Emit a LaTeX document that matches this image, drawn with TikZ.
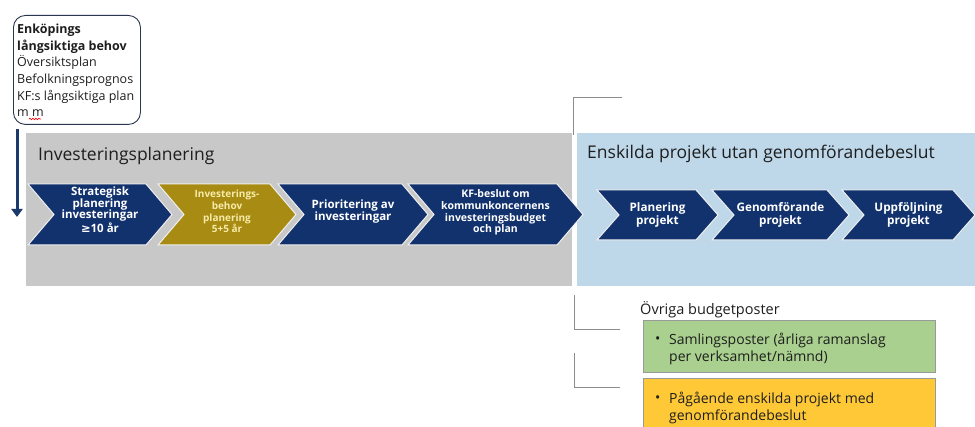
\documentclass[tikz,border=0pt]{standalone}
\usepackage{fontspec}
\setmainfont{Open Sans}
\newfontfamily\symfont{DejaVu Sans}
\usetikzlibrary{calc,arrows.meta,decorations.pathmorphing}
\definecolor{navy}{HTML}{12326E}
\definecolor{gold}{HTML}{A88B13}
\definecolor{paleyel}{HTML}{F7EBA8}
\definecolor{graybg}{HTML}{C8C8C8}
\definecolor{bluebg}{HTML}{BED8EA}
\definecolor{greenbox}{HTML}{A9D08E}
\definecolor{orangebox}{HTML}{FFC837}
\definecolor{arrowcol}{HTML}{1B3A6B}
\definecolor{brackgray}{HTML}{8C8C8C}
\definecolor{boxcol}{HTML}{2A3550}
\definecolor{titlecol}{HTML}{1E1E1E}
\tikzset{
  bluechev/.style={fill=navy, draw=white!88!gray, line width=1pt, line join=miter},
  goldchev/.style={fill=gold, draw=white!88!gray, line width=1pt, line join=miter},
  chevtxt/.style={text=white, align=center, inner sep=0pt},
  bracket/.style={draw=brackgray, line width=1pt},
  title/.style={anchor=base west, text=titlecol, font=\fontsize{17.5}{20}\selectfont, inner sep=0pt},
  budgetbox/.style={draw=gray!80, line width=0.8pt, anchor=north west, minimum width=292pt, inner sep=0pt},
  bullettxt/.style={anchor=north west, align=left, inner sep=0pt, text=titlecol, font=\fontsize{14}{16.5}\selectfont},
  bulletdot/.style={anchor=base west, inner sep=0pt, text=titlecol, font=\fontsize{14}{16.5}\selectfont},
}
% #1 name, #2 left x, #3 tip x, #4 top y, #5 bottom y, #6 depth, #7 shape style, #8 text options, #9 text
\newcommand{\chevshape}[9]{%
  \pgfmathsetmacro\chm{(#4+#5)/2}
  \draw[#7] (#2,#4) -- (#3-#6,#4) -- (#3,\chm) -- (#3-#6,#5) -- (#2,#5) -- (#2+#6,\chm) -- cycle;
  \node[chevtxt,#8] (#1) at ({(#2+#3)/2},\chm) {#9};
}
\begin{document}
\begin{tikzpicture}[x=1pt,y=-1pt]
\useasboundingbox[fill=white] (0,0) rectangle (975,427);

% background panels
\fill[graybg] (26,133) rectangle (572,286);
\fill[bluebg] (577,133) rectangle (975,286);

% top-left box
\node[draw=boxcol, line width=0.9pt, rounded corners=12pt, minimum width=127pt,
      minimum height=109pt, anchor=north west, inner sep=0pt, fill=white] (behov) at (13,15) {};
\node[anchor=north west, align=left, inner sep=0pt, text=titlecol,
      font=\fontsize{12.5}{16.6}\selectfont] (behovtxt) at (17,24)
  {\textbf{Enköpings}\\\textbf{långsiktiga behov}\\Översiktsplan\\Befolkningsprognos\\KF:s långsiktiga plan\\m m};
\coordinate (arrowend) at (17,217);
\draw[arrowcol, line width=3pt, -{Triangle[width=11pt,length=8pt]}]
  ($(behov.south west)+(4,4)$) -- (arrowend);
\draw[red, line width=0.6pt, decorate, decoration={snake, amplitude=0.8pt, segment length=3pt}]
  (29,119) -- (41,119);

% titles
\node[title] (tinv) at (38,161) {Investeringsplanering};
\node[title] (tensk) at (587,159) {Enskilda projekt utan genomförandebeslut};

% left chevrons
\chevshape{c1}{28}{172}{184}{245}{26}{bluechev}{font=\fontsize{11.5}{11.5}\selectfont\bfseries, yshift=5pt}{Strategisk\\planering\\investeringar\\{\symfont\bfseries ≥}10 år}
\chevshape{c2}{158}{296}{184}{245}{26}{goldchev}{text=paleyel, font=\fontsize{10}{11.8}\selectfont\bfseries, yshift=3pt}{Investerings-\\behov\\planering\\5+5 år}
\chevshape{c3}{278}{428}{184}{245}{26}{bluechev}{font=\fontsize{11.5}{12}\selectfont\bfseries, yshift=3pt}{Prioritering av\\investeringar}
\chevshape{c4}{408}{583}{184}{245}{26}{bluechev}{font=\fontsize{10.5}{11.7}\selectfont\bfseries, yshift=2pt}{KF-beslut om\\kommunkoncernens\\investeringsbudget\\och plan}

% right chevrons
\chevshape{c5}{597}{718}{190}{240}{22}{bluechev}{font=\fontsize{11.7}{13.5}\selectfont\bfseries}{Planering\\projekt}
\chevshape{c6}{712}{849}{190}{240}{22}{bluechev}{font=\fontsize{11.7}{13.5}\selectfont\bfseries}{Genomförande\\projekt}
\chevshape{c7}{842}{975}{190}{240}{22}{bluechev}{font=\fontsize{11.7}{13.5}\selectfont\bfseries}{Uppföljning\\projekt}

% brackets
\coordinate (b1a) at (573,135); \coordinate (b1b) at (573,98); \coordinate (b1c) at (622,98);
\draw[bracket] (b1a) -- (b1b) -- (b1c);
\coordinate (b2a) at (574,295); \coordinate (b2b) at (574,330); \coordinate (b2c) at (620,330);
\draw[bracket] (b2a) -- (b2b) -- (b2c);
\coordinate (b3a) at (574,353); \coordinate (b3b) at (574,388); \coordinate (b3c) at (620,388);
\draw[bracket] (b3a) -- (b3b) -- (b3c);

% budget posts
\node[anchor=base west, inner sep=0pt, text=titlecol, font=\fontsize{14.5}{17}\selectfont] (ovr) at (640,315) {Övriga budgetposter};
\node[budgetbox, fill=greenbox, minimum height=52pt] (green) at (643,320) {};
\node[budgetbox, fill=orangebox, minimum height=56pt] (orange) at (643,378) {};
\node[bulletdot] (gb) at (655,344) {•};
\node[bullettxt] (gt) at (669,333) {Samlingsposter (årliga ramanslag\\per verksamhet/nämnd)};
\node[bulletdot] (ob) at (655,403) {•};
\node[bullettxt] (ot) at (669,392) {Pågående enskilda projekt med\\genomförandebeslut};
\end{tikzpicture}
\end{document}
